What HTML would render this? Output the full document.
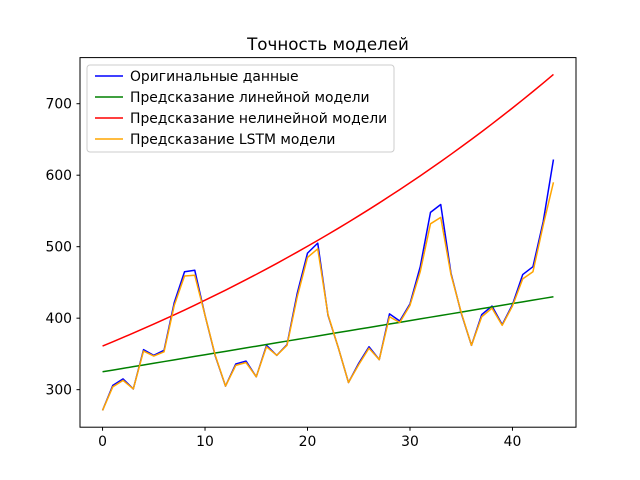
<!DOCTYPE html>
<html><head><meta charset="utf-8">
<style>body{margin:0;background:#fff}svg{display:block;font-family:"DejaVu Sans","Liberation Sans",sans-serif}</style>
</head><body>
<svg id="chart" width="640" height="480">
<rect width="640" height="480" fill="#fff"/>
<text x="328" y="50" font-size="16.7" text-anchor="middle">Точность моделей</text>
<g id="plot"></g>
<rect x="80" y="57.6" width="496" height="369.6" fill="none" stroke="#000" stroke-width="1"/>
<g id="ticks" font-size="13.9"></g>
<g>
<rect x="87" y="65" width="307" height="87" rx="3" fill="#fff" fill-opacity="0.8" stroke="#ccc"/>
<g font-size="13.9">
<line x1="95" x2="123" y1="76" y2="76" stroke="blue" stroke-width="1.5"/><text x="130" y="81">Оригинальные данные</text>
<line x1="95" x2="123" y1="97" y2="97" stroke="green" stroke-width="1.5"/><text x="130" y="102">Предсказание линейной модели</text>
<line x1="95" x2="123" y1="118" y2="118" stroke="red" stroke-width="1.5"/><text x="130" y="123">Предсказание нелинейной модели</text>
<line x1="95" x2="123" y1="139" y2="139" stroke="orange" stroke-width="1.5"/><text x="130" y="144">Предсказание LSTM модели</text>
</g></g>
</svg>
<script>
const original=[271,306,315,301,356,348,355,422,465,467,404,347,305,336,340,318,362,348,363,435,491,505,404,359,310,337,360,342,406,396,420,472,548,559,463,407,362,405,417,391,419,461,472,535,622];
const linear=[325,327.4,329.8,332.2,334.5,336.9,339.3,341.7,344.1,346.5,348.9,351.3,353.6,356.0,358.4,360.8,363.2,365.6,368.0,370.3,372.7,375.1,377.5,379.9,382.3,384.7,387.0,389.4,391.8,394.2,396.6,399.0,401.4,403.8,406.1,408.5,410.9,413.3,415.7,418.1,420.5,422.8,425.2,427.6,430];
const nonlinear=[361.0,366.9,373.0,379.1,385.4,391.7,398.2,404.7,411.4,418.2,425.1,432.1,439.2,446.5,453.8,461.3,468.9,476.6,484.5,492.5,500.6,508.8,517.2,525.7,534.4,543.2,552.1,561.2,570.5,579.9,589.4,599.1,609.0,619.0,629.2,639.6,650.1,660.8,671.7,682.8,694.0,705.5,717.1,728.9,740.9];
const lstm=[271,304,313,301,354,347,353,418,459,460,404,348,305,334,338,318,360,348,362,430,485,497,405,359,310,335,358,342,402,394,418,465,532,541,461,408,362,402,414,390,417,455,465,530,590];
const xTicks=[0,10,20,30,40];
const yTicks=[300,400,500,600,700];
const NS="http://www.w3.org/2000/svg";
const xs=v=>80+(v+2.2)*496/48.4;
const ys=v=>427.2-(v-247.5)*369.6/517;
const plot=document.getElementById('plot');
function series(arr,color,name){
  const p=document.createElementNS(NS,'polyline');
  p.setAttribute('points',arr.map((v,i)=>xs(i)+','+ys(v)).join(' '));
  p.setAttribute('fill','none');p.setAttribute('stroke',color);p.setAttribute('stroke-width','1.5');
  p.setAttribute('stroke-linejoin','round');
  
  
  plot.appendChild(p);
}
series(original,'blue','original-line');
series(linear,'green','linear-line');
series(nonlinear,'red','nonlinear-line');
series(lstm,'orange','lstm-line');
const tg=document.getElementById('ticks');
xTicks.forEach(t=>{
  const l=document.createElementNS(NS,'line');
  l.setAttribute('x1',xs(t));l.setAttribute('x2',xs(t));l.setAttribute('y1',427.2);l.setAttribute('y2',430.7);l.setAttribute('stroke','#000');
  
  
  tg.appendChild(l);
  const tx=document.createElementNS(NS,'text');
  tx.setAttribute('x',xs(t));tx.setAttribute('y',446);tx.setAttribute('text-anchor','middle');tx.textContent=t;
  
  
  tg.appendChild(tx);
});
yTicks.forEach(t=>{
  const l=document.createElementNS(NS,'line');
  l.setAttribute('x1',76.5);l.setAttribute('x2',80);l.setAttribute('y1',ys(t));l.setAttribute('y2',ys(t));l.setAttribute('stroke','#000');
  
  
  tg.appendChild(l);
  const tx=document.createElementNS(NS,'text');
  tx.setAttribute('x',72);tx.setAttribute('y',ys(t)+5);tx.setAttribute('text-anchor','end');tx.textContent=t;
  
  
  tg.appendChild(tx);
});
</script>
</body></html>
